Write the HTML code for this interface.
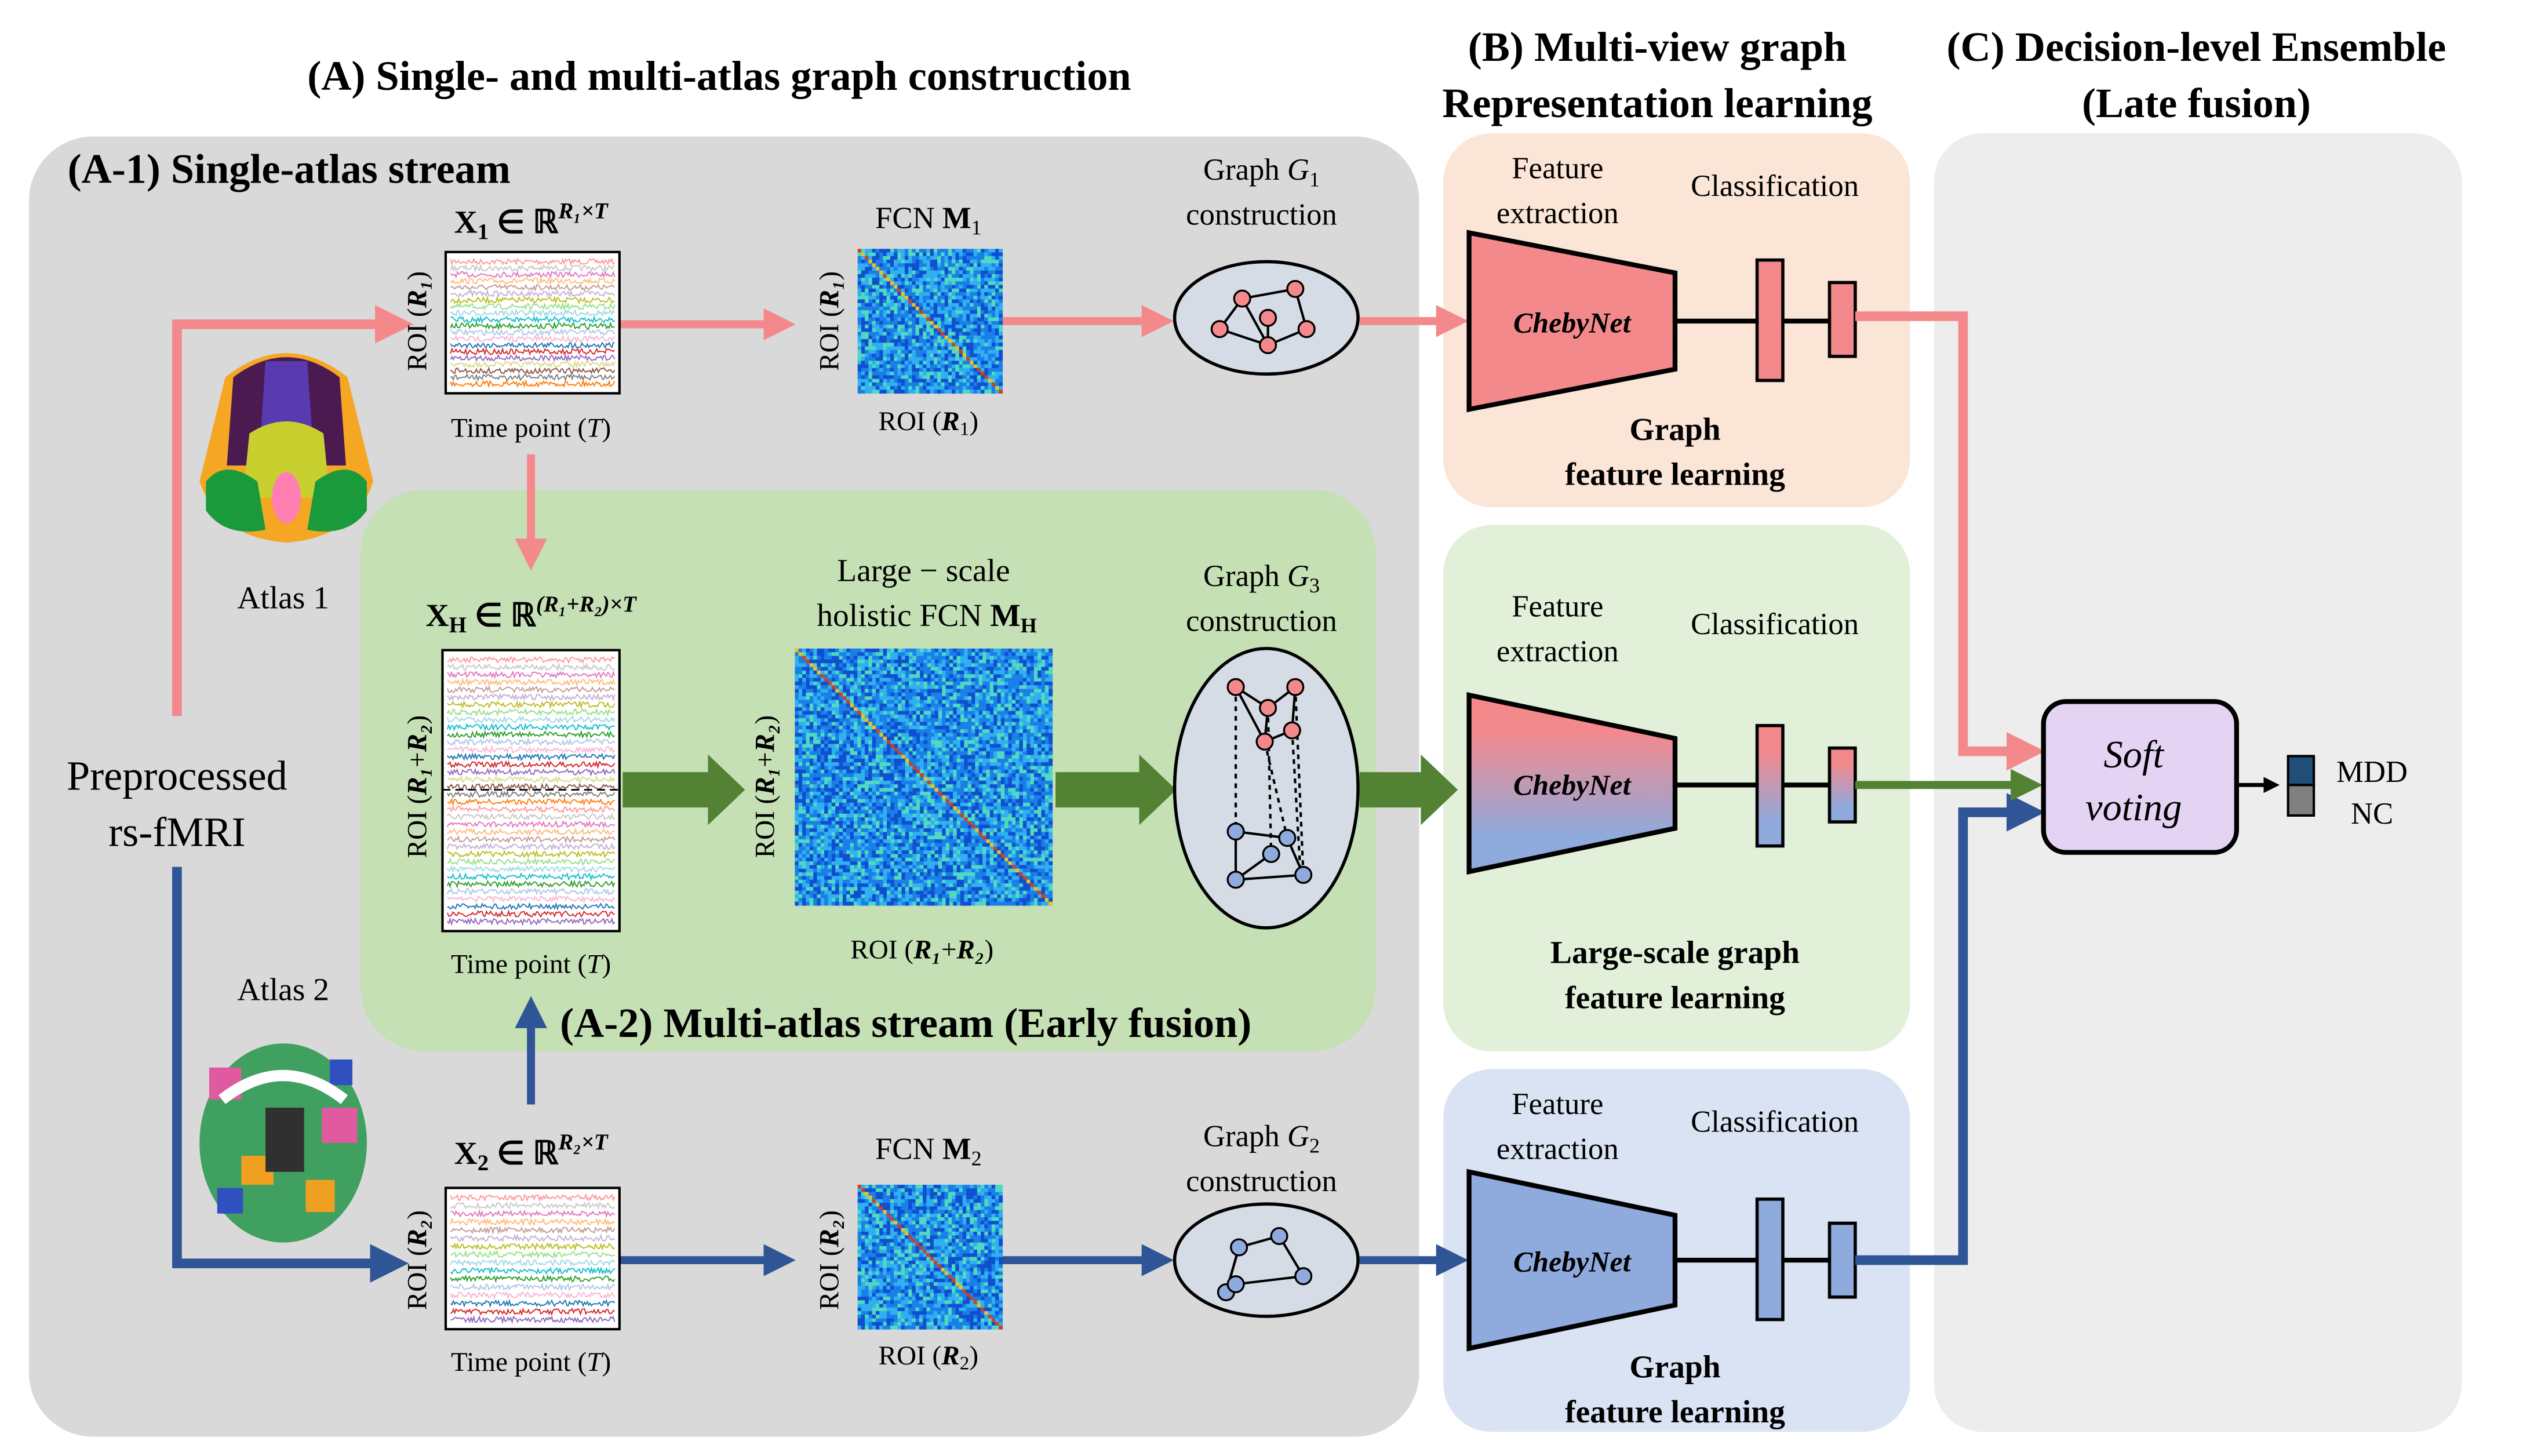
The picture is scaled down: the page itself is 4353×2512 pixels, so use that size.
<!DOCTYPE html>
<html><head><meta charset="utf-8"><style>
html,body{margin:0;padding:0;background:#fff}
svg{display:block}
text{font-family:"Liberation Serif",serif}
</style></head><body>
<svg id="s" width="4353" height="2512" viewBox="0 0 1568 907" preserveAspectRatio="none" xmlns="http://www.w3.org/2000/svg">
<defs>
<marker id="ap" markerWidth="4" markerHeight="4" refX="2.5" refY="2" orient="auto"><path d="M0,0L4,2L0,4z" fill="#f4898c"/></marker>
<marker id="ab" markerWidth="4" markerHeight="4" refX="2.5" refY="2" orient="auto"><path d="M0,0L4,2L0,4z" fill="#2f5597"/></marker>
<marker id="ag" markerWidth="4" markerHeight="4" refX="2.5" refY="2" orient="auto"><path d="M0,0L4,2L0,4z" fill="#548235"/></marker>
<marker id="ak" markerWidth="4" markerHeight="4" refX="2.5" refY="2" orient="auto"><path d="M0,0L4,2L0,4z" fill="#000"/></marker>
<linearGradient id="gm" x1="0" y1="0" x2="0" y2="1"><stop offset="0.2" stop-color="#f4898c"/><stop offset="0.8" stop-color="#8faadc"/></linearGradient>
</defs>
<!-- titles -->
<text x="447" y="56" font-size="26" font-weight="bold" text-anchor="middle">(A) Single- and multi-atlas graph construction</text>
<text x="1030" y="38" font-size="26" font-weight="bold" text-anchor="middle">(B) Multi-view graph</text>
<text x="1030" y="73" font-size="26" font-weight="bold" text-anchor="middle">Representation learning</text>
<text x="1365" y="38" font-size="26" font-weight="bold" text-anchor="middle">(C) Decision-level Ensemble</text>
<text x="1365" y="73" font-size="26" font-weight="bold" text-anchor="middle">(Late fusion)</text>
<!-- boxes -->
<rect x="18" y="85" width="864" height="810" rx="40" fill="#d9d9d9"/>
<rect x="224" y="305" width="631" height="350" rx="40" fill="#c5e0b4"/>
<rect x="897" y="83" width="290" height="233" rx="30" fill="#fbe5d6"/>
<rect x="897" y="327" width="290" height="328" rx="30" fill="#e2f0d9"/>
<rect x="897" y="666" width="290" height="226" rx="30" fill="#dae3f3"/>
<rect x="1202" y="83" width="328" height="809" rx="30" fill="#ededed"/>
<text x="42" y="114" font-size="26" font-weight="bold">(A-1) Single-atlas stream</text>
<text x="348" y="646" font-size="26" font-weight="bold">(A-2) Multi-atlas stream (Early fusion)</text>
<!-- brains -->
<g>
<path d="M140 235 Q178 205 216 235 L232 300 Q220 335 178 338 Q136 335 124 300Z" fill="#f5a623"/>
<path d="M145 235 Q178 210 211 235 L215 290 L141 290Z" fill="#4a1a50"/>
<path d="M165 225 L191 225 L196 300 L160 300Z" fill="#5a3ab0"/>
<path d="M155 270 Q178 255 201 270 L205 310 L151 310Z" fill="#c8d030"/>
<path d="M128 300 Q140 285 160 300 L165 330 Q140 335 128 318Z" fill="#1a9a3a"/>
<path d="M228 300 Q216 285 196 300 L191 330 Q216 335 228 318Z" fill="#1a9a3a"/>
<ellipse cx="178" cy="310" rx="9" ry="16" fill="#ff80b0"/>
</g>
<g>
<ellipse cx="176" cy="712" rx="52" ry="62" fill="#40a060"/>
<rect x="130" y="665" width="20" height="20" fill="#e05aa0"/><rect x="200" y="690" width="22" height="22" fill="#e05aa0"/>
<rect x="150" y="720" width="20" height="18" fill="#f0a020"/><rect x="190" y="735" width="18" height="20" fill="#f0a020"/>
<rect x="135" y="740" width="16" height="16" fill="#3050c0"/><rect x="205" y="660" width="14" height="16" fill="#3050c0"/>
<rect x="165" y="690" width="24" height="40" fill="#303030"/>
<path d="M138 685 Q176 655 214 685" stroke="#fff" stroke-width="7" fill="none"/>
</g>
<text x="176" y="379" font-size="20" text-anchor="middle">Atlas 1</text>
<text x="176" y="623" font-size="20" text-anchor="middle">Atlas 2</text>
<text x="110" y="492" font-size="26" text-anchor="middle">Preprocessed</text>
<text x="110" y="527" font-size="26" text-anchor="middle">rs-fMRI</text>
<!-- pink/blue arrows left -->
<polyline points="110,446 110,202 248,202" fill="none" stroke="#f4898c" stroke-width="6" marker-end="url(#ap)"/>
<polyline points="110,540 110,787 245,787" fill="none" stroke="#2f5597" stroke-width="6" marker-end="url(#ab)"/>
<line x1="385" y1="202" x2="487" y2="202" stroke="#f4898c" stroke-width="5" marker-end="url(#ap)"/>
<line x1="621" y1="200" x2="722" y2="200" stroke="#f4898c" stroke-width="5" marker-end="url(#ap)"/>
<line x1="845" y1="200" x2="905" y2="200" stroke="#f4898c" stroke-width="5" marker-end="url(#ap)"/>
<line x1="385" y1="785" x2="487" y2="785" stroke="#2f5597" stroke-width="5" marker-end="url(#ab)"/>
<line x1="621" y1="785" x2="722" y2="785" stroke="#2f5597" stroke-width="5" marker-end="url(#ab)"/>
<line x1="845" y1="785" x2="905" y2="785" stroke="#2f5597" stroke-width="5" marker-end="url(#ab)"/>
<line x1="330" y1="283" x2="330" y2="348" stroke="#f4898c" stroke-width="5" marker-end="url(#ap)"/>
<line x1="330" y1="688" x2="330" y2="628" stroke="#2f5597" stroke-width="5" marker-end="url(#ab)"/>
<g fill="#548235">
<polygon points="387,481 440,481 440,470 463,492 440,514 440,503 387,503"/>
<polygon points="656,481 708,481 708,470 731,492 708,514 708,503 656,503"/>
<polygon points="845,481 883,481 883,470 906,492 883,514 883,503 845,503"/>
</g>
<!-- labels A -->
<text x="330" y="145" font-size="20" font-weight="bold" text-anchor="middle">X<tspan font-size="14" dy="4">1</tspan><tspan dy="-4"> ∈ ℝ</tspan><tspan font-size="14" dy="-9" font-style="italic">R₁×T</tspan></text>
<text x="330" y="272" font-size="17" text-anchor="middle">Time point (<tspan font-style="italic">T</tspan>)</text>
<text x="577" y="142" font-size="19" text-anchor="middle">FCN <tspan font-weight="bold">M</tspan><tspan font-size="13" dy="4">1</tspan></text>
<text x="577" y="268" font-size="17" text-anchor="middle">ROI (<tspan font-weight="bold" font-style="italic">R</tspan><tspan font-size="12" dy="3">1</tspan><tspan dy="-3">)</tspan></text>
<text x="784" y="112" font-size="19" text-anchor="middle">Graph <tspan font-style="italic">G</tspan><tspan font-size="13" dy="4">1</tspan></text>
<text x="784" y="140" font-size="19" text-anchor="middle">construction</text>
<text transform="translate(265,200) rotate(-90)" font-size="17" text-anchor="middle">ROI (<tspan font-weight="bold" font-style="italic">R₁</tspan>)</text>
<text transform="translate(521,200) rotate(-90)" font-size="17" text-anchor="middle">ROI (<tspan font-weight="bold" font-style="italic">R₁</tspan>)</text>

<text x="330" y="390" font-size="20" font-weight="bold" text-anchor="middle">X<tspan font-size="14" dy="4">H</tspan><tspan dy="-4"> ∈ ℝ</tspan><tspan font-size="14" dy="-9" font-style="italic">(R₁+R₂)×T</tspan></text>
<text x="330" y="606" font-size="17" text-anchor="middle">Time point (<tspan font-style="italic">T</tspan>)</text>
<text x="574" y="362" font-size="20" text-anchor="middle">Large − scale</text>
<text x="576" y="390" font-size="20" text-anchor="middle">holistic FCN <tspan font-weight="bold">M</tspan><tspan font-size="13" dy="4" font-weight="bold">H</tspan></text>
<text x="573" y="597" font-size="17" text-anchor="middle">ROI (<tspan font-weight="bold" font-style="italic">R₁</tspan>+<tspan font-weight="bold" font-style="italic">R₂</tspan>)</text>
<text x="784" y="365" font-size="19" text-anchor="middle">Graph <tspan font-style="italic">G</tspan><tspan font-size="13" dy="4">3</tspan></text>
<text x="784" y="393" font-size="19" text-anchor="middle">construction</text>
<text transform="translate(265,490) rotate(-90)" font-size="17" text-anchor="middle">ROI (<tspan font-weight="bold" font-style="italic">R₁</tspan>+<tspan font-weight="bold" font-style="italic">R₂</tspan>)</text>
<text transform="translate(481,490) rotate(-90)" font-size="17" text-anchor="middle">ROI (<tspan font-weight="bold" font-style="italic">R₁</tspan>+<tspan font-weight="bold" font-style="italic">R₂</tspan>)</text>

<text x="330" y="725" font-size="20" font-weight="bold" text-anchor="middle">X<tspan font-size="14" dy="4">2</tspan><tspan dy="-4"> ∈ ℝ</tspan><tspan font-size="14" dy="-9" font-style="italic">R₂×T</tspan></text>
<text x="330" y="854" font-size="17" text-anchor="middle">Time point (<tspan font-style="italic">T</tspan>)</text>
<text x="577" y="722" font-size="19" text-anchor="middle">FCN <tspan font-weight="bold">M</tspan><tspan font-size="13" dy="4">2</tspan></text>
<text x="577" y="850" font-size="17" text-anchor="middle">ROI (<tspan font-weight="bold" font-style="italic">R</tspan><tspan font-size="12" dy="3">2</tspan><tspan dy="-3">)</tspan></text>
<text x="784" y="714" font-size="19" text-anchor="middle">Graph <tspan font-style="italic">G</tspan><tspan font-size="13" dy="4">2</tspan></text>
<text x="784" y="742" font-size="19" text-anchor="middle">construction</text>
<text transform="translate(265,785) rotate(-90)" font-size="17" text-anchor="middle">ROI (<tspan font-weight="bold" font-style="italic">R₂</tspan>)</text>
<text transform="translate(521,785) rotate(-90)" font-size="17" text-anchor="middle">ROI (<tspan font-weight="bold" font-style="italic">R₂</tspan>)</text>

<g id="ts"></g>
<g id="mx"></g>
<!-- graphs -->
<ellipse cx="787" cy="198" rx="57" ry="35" fill="#d6dce5" stroke="#000" stroke-width="2"/>
<ellipse cx="787" cy="491" rx="57" ry="87" fill="#d6dce5" stroke="#000" stroke-width="2"/>
<ellipse cx="787" cy="785" rx="57" ry="35" fill="#d6dce5" stroke="#000" stroke-width="2"/>
<g stroke="#000" stroke-width="1.5" fill="none">
<polyline points="758,205 772,186 805,180 812,205 788,215 758,205"/><line x1="772" y1="186" x2="788" y2="215"/><line x1="788" y1="215" x2="788" y2="198"/>
<polyline points="768,428 788,441 805,428 803,455 786,462 768,428"/><line x1="788" y1="441" x2="786" y2="462"/>
<polyline points="768,518 800,522 810,545 768,548 768,518"/><line x1="790" y1="532" x2="768" y2="548"/>
<g stroke-dasharray="3,3"><line x1="768" y1="428" x2="768" y2="518"/><line x1="788" y1="441" x2="790" y2="532"/><line x1="805" y1="428" x2="810" y2="545"/><line x1="786" y1="462" x2="800" y2="522"/><line x1="803" y1="455" x2="808" y2="540"/></g>
<polyline points="762,805 770,777 795,770 810,795 768,800"/><line x1="770" y1="777" x2="762" y2="805"/>
</g>
<g fill="#f4898c" stroke="#000" stroke-width="1.2">
<circle cx="758" cy="205" r="5"/><circle cx="772" cy="186" r="5"/><circle cx="805" cy="180" r="5"/><circle cx="812" cy="205" r="5"/><circle cx="788" cy="215" r="5"/><circle cx="788" cy="198" r="5"/>
<circle cx="768" cy="428" r="5"/><circle cx="788" cy="441" r="5"/><circle cx="805" cy="428" r="5"/><circle cx="803" cy="455" r="5"/><circle cx="786" cy="462" r="5"/>
</g>
<g fill="#8faadc" stroke="#000" stroke-width="1.2">
<circle cx="768" cy="518" r="5"/><circle cx="800" cy="522" r="5"/><circle cx="810" cy="545" r="5"/><circle cx="768" cy="548" r="5"/><circle cx="790" cy="532" r="5"/>
<circle cx="762" cy="805" r="5"/><circle cx="770" cy="777" r="5"/><circle cx="795" cy="770" r="5"/><circle cx="810" cy="795" r="5"/><circle cx="768" cy="800" r="5"/>
</g>
<!-- B -->
<g font-size="19">
<text x="968" y="111" text-anchor="middle">Feature</text><text x="968" y="139" text-anchor="middle">extraction</text>
<text x="1103" y="122" text-anchor="middle">Classification</text>
<text x="968" y="384" text-anchor="middle">Feature</text><text x="968" y="412" text-anchor="middle">extraction</text>
<text x="1103" y="395" text-anchor="middle">Classification</text>
<text x="968" y="694" text-anchor="middle">Feature</text><text x="968" y="722" text-anchor="middle">extraction</text>
<text x="1103" y="705" text-anchor="middle">Classification</text>
</g>
<g font-size="20" font-weight="bold" text-anchor="middle">
<text x="1041" y="274">Graph</text><text x="1041" y="302">feature learning</text>
<text x="1041" y="600">Large-scale graph</text><text x="1041" y="628">feature learning</text>
<text x="1041" y="858">Graph</text><text x="1041" y="886">feature learning</text>
</g>
<polygon points="913,145 1041,170 1041,230 913,255" fill="#f4898c" stroke="#000" stroke-width="3"/>
<polygon points="913,433 1041,460 1041,516 913,543" fill="url(#gm)" stroke="#000" stroke-width="3"/>
<polygon points="913,730 1041,757 1041,813 913,840" fill="#8faadc" stroke="#000" stroke-width="3"/>
<g font-size="18" font-weight="bold" font-style="italic" text-anchor="middle"><text x="977" y="207">ChebyNet</text><text x="977" y="495">ChebyNet</text><text x="977" y="792">ChebyNet</text></g>
<g stroke="#000" stroke-width="3">
<line x1="1041" y1="200" x2="1092" y2="200"/><line x1="1108" y1="200" x2="1137" y2="200"/>
<line x1="1041" y1="489" x2="1092" y2="489"/><line x1="1108" y1="489" x2="1137" y2="489"/>
<line x1="1041" y1="785" x2="1092" y2="785"/><line x1="1108" y1="785" x2="1137" y2="785"/>
</g>
<g stroke="#000" stroke-width="2">
<rect x="1092" y="162" width="16" height="75" fill="#f4898c"/><rect x="1137" y="176" width="16" height="46" fill="#f4898c"/>
<rect x="1092" y="452" width="16" height="75" fill="url(#gm)"/><rect x="1137" y="466" width="16" height="46" fill="url(#gm)"/>
<rect x="1092" y="747" width="16" height="75" fill="#8faadc"/><rect x="1137" y="762" width="16" height="46" fill="#8faadc"/>
</g>
<polyline points="1153,197 1220,197 1220,468 1262,468" fill="none" stroke="#f4898c" stroke-width="6" marker-end="url(#ap)"/>
<polyline points="1153,785 1220,785 1220,506 1262,506" fill="none" stroke="#2f5597" stroke-width="6" marker-end="url(#ab)"/>
<line x1="1153" y1="489" x2="1262" y2="489" stroke="#548235" stroke-width="5" marker-end="url(#ag)"/>
<rect x="1270" y="437" width="120" height="94" rx="14" fill="#e4d3f3" stroke="#000" stroke-width="3"/>
<text x="1326" y="478" font-size="24" font-style="italic" text-anchor="middle">Soft</text>
<text x="1326" y="511" font-size="24" font-style="italic" text-anchor="middle">voting</text>
<line x1="1390" y1="489" x2="1413" y2="489" stroke="#000" stroke-width="2.5" marker-end="url(#ak)"/>
<rect x="1422" y="471" width="16" height="18" fill="#1f4e79" stroke="#000" stroke-width="1.5"/>
<rect x="1422" y="489" width="16" height="19" fill="#808080" stroke="#000" stroke-width="1.5"/>
<text x="1452" y="487" font-size="19">MDD</text>
<text x="1461" y="513" font-size="19">NC</text>
</svg>
<script>
(function(){
var NS="http://www.w3.org/2000/svg",s=document.getElementById('ts'),m=document.getElementById('mx');
var seed=7;function r(){seed=(seed*16807)%2147483647;return seed/2147483647;}
var cols=["#ff9896","#c7c7c7","#e377c2","#ffbb78","#c49c94","#c5b0d5","#bcbd22","#98df8a","#9edae5","#17becf","#2ca02c","#aec7e8","#f7b6d2","#1f77b4","#d62728","#9467bd","#dbdb8d","#8c564b","#7f7f7f","#ff7f0e"];
function box(x,y,w,h,n,dash){var b=document.createElementNS(NS,'rect');b.setAttribute('x',x);b.setAttribute('y',y);b.setAttribute('width',w);b.setAttribute('height',h);b.setAttribute('fill','#fff');b.setAttribute('stroke','#000');b.setAttribute('stroke-width','1.5');s.appendChild(b);
for(var i=0;i<n;i++){var yy=y+6+i*(h-12)/(n-1),p="";for(var k=0;k<=120;k++){p+=(x+3+k*(w-6)/120).toFixed(1)+","+(yy+(r()-0.5)*3.5).toFixed(1)+" ";}var l=document.createElementNS(NS,'polyline');l.setAttribute('points',p);l.setAttribute('fill','none');l.setAttribute('stroke',cols[i%cols.length]);l.setAttribute('stroke-width','0.7');s.appendChild(l);}
if(dash){var d=document.createElementNS(NS,'line');d.setAttribute('x1',x);d.setAttribute('x2',x+w);d.setAttribute('y1',dash);d.setAttribute('y2',dash);d.setAttribute('stroke','#000');d.setAttribute('stroke-dasharray','5,3');s.appendChild(d);}}
box(277,157,108,88,20);box(275,405,110,175,36,492);box(277,740,108,88,16);
function mat(x,y,w,n){var c=w/n;for(var i=0;i<n;i++)for(var j=0;j<n;j++){var v=r();var col;if(i==j)col=(r()<0.5?"#d04020":"#f0c020");else col=v<0.25?"#1050d0":(v<0.55?"#1a80e8":(v<0.82?"#30b0f0":"#50d8c0"));var e=document.createElementNS(NS,'rect');e.setAttribute('x',x+i*c);e.setAttribute('y',y+j*c);e.setAttribute('width',c+0.2);e.setAttribute('height',c+0.2);e.setAttribute('fill',col);m.appendChild(e);}}
mat(533,155,90,40);mat(494,404,160,70);mat(533,738,90,40);
})();
</script>
</body></html>
